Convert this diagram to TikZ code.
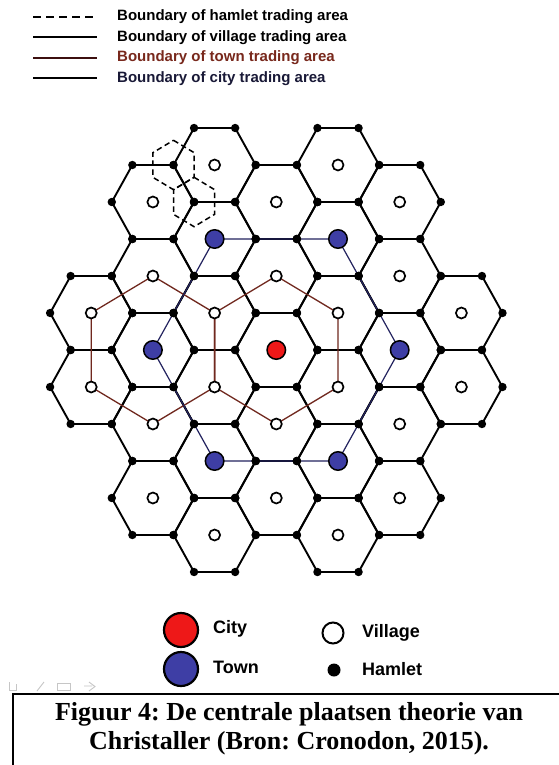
\documentclass[tikz,border=0pt]{standalone}
\usepackage{fontspec}
\setmainfont{Liberation Serif}
\setsansfont{Liberation Sans}
\frenchspacing
\definecolor{townblue}{RGB}{62,62,165}
\definecolor{cityred}{RGB}{238,24,24}
\definecolor{brownline}{RGB}{112,40,30}
\definecolor{navyline}{RGB}{35,35,95}
\definecolor{browntext}{RGB}{120,40,28}
\definecolor{navytext}{RGB}{25,25,55}
\begin{document}
\begin{tikzpicture}[x=1pt,y=-1pt,
  hexedge/.style={line width=1.9pt,line join=round},
  hamletdot/.style={fill=black},
  village/.style={circle,draw=black,fill=white,line width=1.7pt,minimum size=11pt,inner sep=0pt},
  town/.style={circle,draw=black,fill=townblue,line width=1.5pt,minimum size=18.5pt,inner sep=0pt},
  city/.style={circle,draw=black,fill=cityred,line width=1.5pt,minimum size=18.5pt,inner sep=0pt},
  townline/.style={brownline,line width=1.3pt},
  cityline/.style={navyline,line width=1.2pt},
  hamletline/.style={line width=1.5pt,dash pattern=on 5.5pt off 3.5pt},
  legtext/.style={font=\sffamily\bfseries\fontsize{15}{17}\selectfont,anchor=west,inner sep=0pt},
  keytext/.style={font=\sffamily\bfseries\fontsize{18}{21}\selectfont,anchor=west,inner sep=0pt},
  capline/.style={line width=1.4pt}]
\useasboundingbox (0,0) rectangle (559,765);
\fill[white] (0,0) rectangle (559,765);

\def\hexlist{0/-4,0/-2,0/0,0/2,0/4,-1/-5,-1/-3,-1/-1,-1/1,-1/3,-1/5,1/-5,1/-3,1/-1,1/1,1/3,1/5,-2/-4,-2/-2,-2/0,-2/2,-2/4,2/-4,2/-2,2/0,2/2,2/4,-3/-1,-3/1,3/-1,3/1}

% hexagon centres
\foreach \c/\k in \hexlist {
  \coordinate (p\c\k) at ({276.3+61.7*(\c)},{350+37*(\k)});
}

% village trading area boundaries
\foreach \c/\k in \hexlist {
  \draw[hexedge] ([shift={(41.1,0)}]p\c\k) -- ([shift={(20.55,37)}]p\c\k) -- ([shift={(-20.55,37)}]p\c\k)
     -- ([shift={(-41.1,0)}]p\c\k) -- ([shift={(-20.55,-37)}]p\c\k) -- ([shift={(20.55,-37)}]p\c\k) -- cycle;
}

% hamlet trading areas (dashed)
\coordinate (ha) at ([shift={(-41.1,0)}]p-1-5);
\coordinate (hb) at ([shift={(-20.55,37)}]p-1-5);
\foreach \h in {ha,hb} {
  \draw[hamletline] ([shift={(0,-24.7)}]\h) -- ([shift={(20.55,-12.35)}]\h) -- ([shift={(20.55,12.35)}]\h)
     -- ([shift={(0,24.7)}]\h) -- ([shift={(-20.55,12.35)}]\h) -- ([shift={(-20.55,-12.35)}]\h) -- cycle;
}

% town trading areas (brown)
\draw[townline,line join=round] (p-2-2) -- (p-1-1) -- (p-11) -- (p-22) -- (p-31) -- (p-3-1) -- cycle;
\draw[townline,line join=round] (p0-2) -- (p1-1) -- (p11) -- (p02) -- (p-11) -- (p-1-1) -- cycle;

% city trading area (navy)
\draw[cityline,line join=round] (p-1-3) -- (p1-3) -- (p20) -- (p13) -- (p-13) -- (p-20) -- cycle;

% hamlets at all hexagon corners
\foreach \c/\k in \hexlist {
  \foreach \dx/\dy in {41.1/0,20.55/37,-20.55/37,-41.1/0,-20.55/-37,20.55/-37} {
    \fill[hamletdot] ([shift={(\dx,\dy)}]p\c\k) circle (4.2pt);
  }
}

% villages
\foreach \c/\k in {0/-4,0/-2,0/2,0/4,-1/-5,-1/-1,-1/1,-1/5,1/-5,1/-1,1/1,1/5,-2/-4,-2/-2,-2/2,-2/4,2/-4,2/-2,2/2,2/4,-3/-1,-3/1,3/-1,3/1} {
  \node[village] (v\c\k) at (p\c\k) {};
}
% towns
\foreach \c/\k in {-1/-3,1/-3,-2/0,2/0,-1/3,1/3} {
  \node[town] (t\c\k) at (p\c\k) {};
}
% city
\node[city] (cty) at (p00) {};

% top legend
\coordinate (l1a) at (33,17);   \coordinate (l1b) at (97,17);
\coordinate (l2a) at (33,37.5); \coordinate (l2b) at (97,37.5);
\coordinate (l3a) at (33,58);   \coordinate (l3b) at (97,58);
\coordinate (l4a) at (33,78.5); \coordinate (l4b) at (97,78.5);
\draw[line width=2pt,dash pattern=on 8pt off 5pt] (l1a) -- (l1b);
\draw[line width=2pt] (l2a) -- (l2b);
\draw[line width=2pt,color={rgb,255:red,60;green,15;blue,15}] (l3a) -- (l3b);
\draw[line width=2pt] (l4a) -- (l4b);
\node[legtext] (t1) at (117,17) {Boundary of hamlet trading area};
\node[legtext] (t2) at (117,37.5) {Boundary of village trading area};
\node[legtext,text=browntext] (t3) at (117,58) {Boundary of town trading area};
\node[legtext,text=navytext] (t4) at (117,78.5) {Boundary of city trading area};

% bottom legend
\node[circle,draw=black,fill=cityred,line width=2.2pt,minimum size=34pt,inner sep=0pt] (kcity) at (181,630) {};
\node[keytext] (kcityt) at (213,629) {City};
\node[circle,draw=black,fill=townblue,line width=2.2pt,minimum size=34pt,inner sep=0pt] (ktown) at (181,669) {};
\node[keytext] (ktownt) at (213,667) {Town};
\node[circle,draw=black,fill=white,line width=2pt,minimum size=21pt,inner sep=0pt] (kvil) at (333,633) {};
\node[keytext] (kvilt) at (362,633) {Village};
\node[circle,fill=black,minimum size=13pt,inner sep=0pt] (kham) at (334,670) {};
\node[keytext] (khamt) at (362,669) {Hamlet};

% faint toolbar icons
\begin{scope}[gray!45,line width=0.9pt]
  \draw (9,682) -- (9,690) -- (16,690) -- (16,684);
  \draw (37,691) -- (44,682);
  \draw (57,683) rectangle (70,690);
  \draw (84,686) -- (92,686) (89,682) -- (95,686.5) -- (89,691);
\end{scope}

% caption box
\coordinate (ba) at (13,765);
\coordinate (bb) at (13,694);
\coordinate (bc) at (559,694);
\draw[capline] (ba) -- (bb) -- (bc);
\node[font=\bfseries\fontsize{26}{29}\selectfont,align=center,inner sep=0pt] (cap) at (289,729)
  {Figuur 4: De centrale plaatsen theorie van\\Christaller (Bron: Cronodon, 2015).};
\end{tikzpicture}
\end{document}
